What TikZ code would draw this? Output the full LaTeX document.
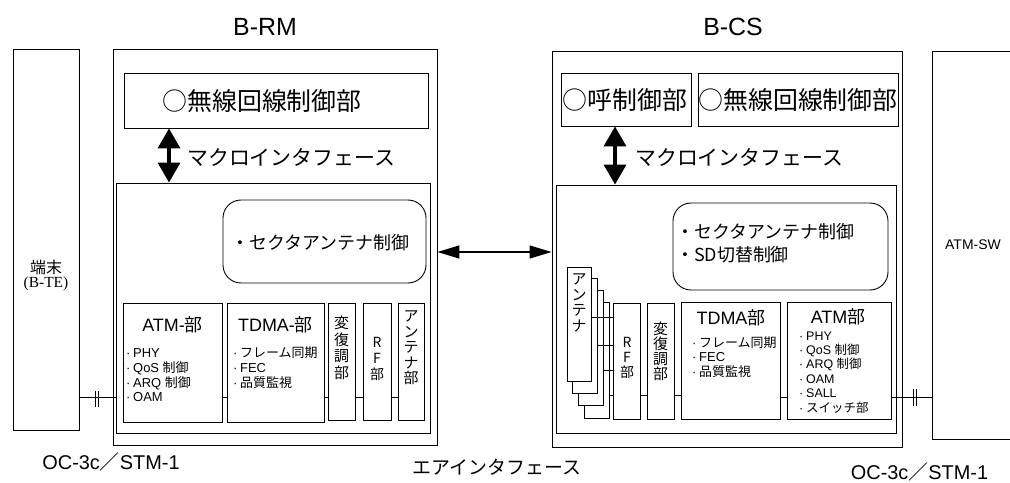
\documentclass[tikz,border=0pt]{standalone}
\usepackage{fontspec}
\setmainfont{Liberation Sans}
\newfontfamily\jp{Noto Sans CJK JP}
\newfontfamily\serifr{Liberation Serif}
\usetikzlibrary{arrows.meta,fit}
\newcommand\fsz[1]{\fontsize{#1}{#1}\selectfont}
\newcommand\bul{\makebox[7bp][l]{·}}
\begin{document}
\begin{tikzpicture}[x=1bp,y=-1bp,
  box/.style={draw, line width=0.9bp, inner sep=0pt, fill=white},
  rbox/.style={box, rounded corners=18bp},
  lbl/.style={inner sep=0pt},
  conn/.style={draw, line width=0.9bp},
  bigarrow/.style={line width=3.5bp, {Triangle[length=20bp,width=22bp]}-{Triangle[length=20bp,width=22bp]}},
  airarrow/.style={line width=1.3bp, {Triangle[length=22bp,width=13bp]}-{Triangle[length=22bp,width=13bp]}},
  vtext/.style={lbl, align=center},
  title/.style={lbl, font=\fsz{25}},
  ctrl/.style={lbl, font=\jp\fsz{25}},
  macro/.style={lbl, anchor=west, font=\jp\fsz{21}},
  sector/.style={lbl, anchor=west, font=\jp\fsz{18}},
  unit/.style={lbl, font=\fsz{18}},
  item/.style={lbl, anchor=west, font=\fsz{13}},
  sitem/.style={lbl, anchor=west, font=\fsz{12.5}},
  bottom/.style={lbl, font=\fsz{20}}
]
\useasboundingbox (0,0) rectangle (1010,483);
\fill[white] (0,0) rectangle (1010,483);
\clip (0,0) rectangle (1010,483);

% ---------- titles ----------
\node[title] (trm) at (265,27) {B-RM};
\node[title] (tcs) at (733,27) {B-CS};

% ---------- terminal ----------
\node[box, fit={(13,49) (79,430)}] (te) {};
\node[lbl, font=\jp\fsz{16}] (te1) at (46,267) {端末};
\node[lbl, font=\serifr\fsz{15.5}] (te2) at (46,284) {(B-TE)};

% ---------- ATM-SW ----------
\node[box, fit={(932,51) (1020,439)}] (sw) {};
\node[lbl, anchor=west, font=\fsz{14}] (swl) at (945,245) {ATM-SW};

% ---------- B-RM ----------
\node[box, fit={(113,49) (437,445)}] (rm) {};
\node[box, fit={(124,73) (428,128)}] (rmtop) {};
\node[ctrl] (rmtopl) at (262,101) {○無線回線制御部};
\node[box, fit={(116,183) (430,433)}] (rmin) {};
\coordinate (rmax) at (169,0);
\draw[bigarrow] (rmtop.south -| rmax) -- (rmin.north -| rmax);
\node[macro] (rmmac) at (187,157) {マクロインタフェース};
\node[rbox, fit={(223,200) (426,283)}] (rmsec) {};
\node[sector] (rmsecl) at (231,243) {・セクタアンテナ制御};

\node[box, fit={(123,303) (222,422)}] (rmatm) {};
\node[unit] (rmatml) at (172.5,325) {ATM-{\jp 部}};
\node[item] (rma1) at (126,353) {\bul PHY};
\node[item] (rma2) at (126,368) {\bul QoS {\jp 制御}};
\node[item] (rma3) at (126,383) {\bul ARQ {\jp 制御}};
\node[item] (rma4) at (126,397) {\bul OAM};

\node[box, fit={(227,303) (324,422)}] (rmtdma) {};
\node[unit] (rmtdmal) at (275.5,325) {TDMA-{\jp 部}};
\node[item] (rmt1) at (233,353) {\bul{\jp フレーム同期}};
\node[item] (rmt2) at (233,368) {\bul FEC};
\node[item] (rmt3) at (233,383) {\bul{\jp 品質監視}};

\node[box, fit={(328,303) (355,420)}] (rmmod) {};
\node[vtext, font=\jp\fontsize{15}{16.7}\selectfont] (rmmodl) at (341.5,348) {変\\復\\調\\部};
\node[box, fit={(363,303) (391,420)}] (rmrf) {};
\node[vtext, font=\jp\fontsize{14}{16}\selectfont] (rmrfl) at (377,359) {R\\F\\部};
\node[box, fit={(398,303) (424,420)}] (rmant) {};
\node[vtext, font=\jp\fontsize{15}{15.5}\selectfont] (rmantl) at (411,348) {ア\\ン\\テ\\ナ\\部};

\coordinate (ry) at (0,397);
\draw[conn] (te.east |- ry) -- (rmin.west |- ry);
\draw[conn] (rmatm.east |- ry) -- (rmtdma.west |- ry);
\draw[conn] (rmtdma.east |- ry) -- (rmmod.west |- ry);
\draw[conn] (rmmod.east |- ry) -- (rmrf.west |- ry);
\draw[conn] (rmrf.east |- ry) -- (rmant.west |- ry);
\draw[conn] (95,391) -- (95,407) (98.5,391) -- (98.5,407);

% ---------- B-CS ----------
\node[box, fit={(552,51) (902,447)}] (cs) {};
\node[box, fit={(561,73) (691,126)}] (cscall) {};
\node[ctrl] (cscalll) at (625,100) {○呼制御部};
\node[box, fit={(698,73) (898,126)}] (csrad) {};
\node[ctrl] (csradl) at (798,100) {○無線回線制御部};
\node[box, fit={(556,185) (896,433)}] (csin) {};
\coordinate (csax) at (615,0);
\draw[bigarrow] (cscall.south -| csax) -- (csin.north -| csax);
\node[macro] (csmac) at (635,157) {マクロインタフェース};
\node[rbox, fit={(673,203) (888,290)}] (cssec) {};
\node[sector] (cssec1) at (676,232) {・セクタアンテナ制御};
\node[sector] (cssec2) at (676,255) {・SD切替制御};

\node[box, fit={(584,302) (609,418)}] (ant4) {};
\node[box, fit={(578,290) (603,405)}] (ant3) {};
\node[box, fit={(572,278) (597,393)}] (ant2) {};
\node[box, fit={(567,267) (591,381)}] (ant1) {};
\node[vtext, font=\jp\fontsize{15}{15.5}\selectfont] (antl) at (579,303) {ア\\ン\\テ\\ナ};

\node[box, fit={(613,303) (640,419)}] (csrf) {};
\node[vtext, font=\jp\fontsize{14}{15}\selectfont] (csrfl) at (627,358) {R\\F\\部};
\node[box, fit={(647,303) (674,419)}] (csmod) {};
\node[vtext, font=\jp\fontsize{15}{15}\selectfont] (csmodl) at (660.5,351) {変\\復\\調\\部};

\node[box, fit={(681,302) (780,419)}] (cstdma) {};
\node[unit] (cstdmal) at (731,318) {TDMA{\jp 部}};
\node[item] (cst1) at (692,343) {\bul{\jp フレーム同期}};
\node[item] (cst2) at (692,357) {\bul FEC};
\node[item] (cst3) at (692,372) {\bul{\jp 品質監視}};

\node[box, fit={(787,302) (891,419)}] (csatm) {};
\node[unit] (csatml) at (838,316.5) {ATM{\jp 部}};
\node[sitem] (csa1) at (799,336) {\bul PHY};
\node[sitem] (csa2) at (799,350.3) {\bul QoS {\jp 制御}};
\node[sitem] (csa3) at (799,364.6) {\bul ARQ {\jp 制御}};
\node[sitem] (csa4) at (799,378.9) {\bul OAM};
\node[sitem] (csa5) at (799,393.2) {\bul SALL};
\node[sitem] (csa6) at (799,407.5) {\bul{\jp スイッチ部}};

\draw[conn] (ant1.east |- 0,317) -- (csrf.west |- 0,317);
\draw[conn] (ant2.east |- 0,345) -- (csrf.west |- 0,345);
\draw[conn] (ant3.east |- 0,370) -- (csrf.west |- 0,370);
\draw[conn] (ant4.east |- 0,395) -- (csrf.west |- 0,395);
\coordinate (cy) at (0,395);
\coordinate (cy2) at (0,397);
\draw[conn] (csrf.east |- cy) -- (csmod.west |- cy);
\draw[conn] (csmod.east |- cy) -- (cstdma.west |- cy);
\draw[conn] (cstdma.east |- cy2) -- (csatm.west |- cy2);
\draw[conn] (csatm.east |- cy2) -- (sw.west |- cy2);
\draw[conn] (913,389) -- (913,406) (916.5,389) -- (916.5,406);

% ---------- air interface ----------
\coordinate (airy) at (0,252);
\draw[airarrow] (rm.east |- airy) -- (cs.west |- airy);

% ---------- bottom labels ----------
\node[bottom] (oc1) at (111,462) {OC-3c{\jp ／}STM-1};
\node[bottom] (oc2) at (919.5,472) {OC-3c{\jp ／}STM-1};
\node[lbl, font=\jp\fsz{19}] (air) at (497,467) {エアインタフェース};
\end{tikzpicture}
\end{document}
